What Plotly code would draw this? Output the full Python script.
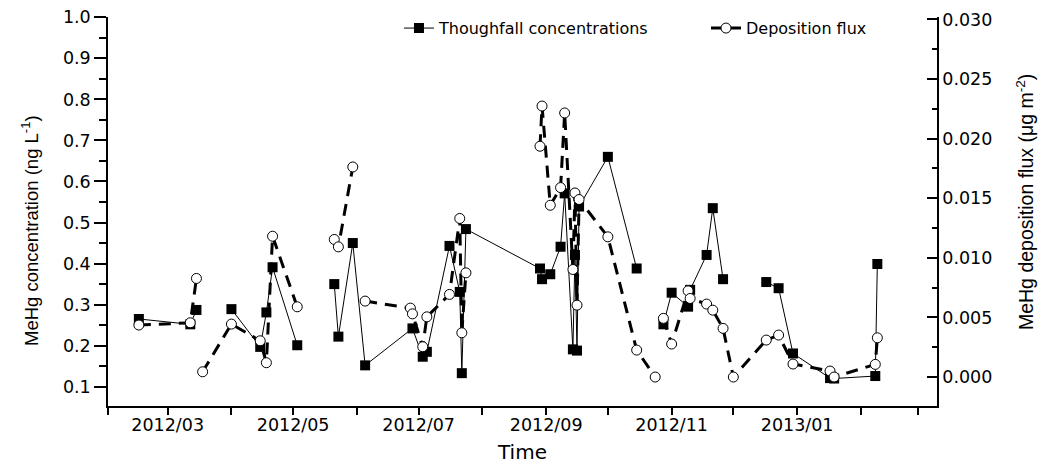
import plotly.graph_objects as go

# Throughfall MeHg concentration (ng/L); None = break in line
conc_dates = ["2012-02-16", "2012-03-12", "2012-03-15", "2012-03-18", "2012-04-01", "2012-04-15",
              "2012-04-18", "2012-04-21", "2012-05-03", "2012-05-12", "2012-05-21", "2012-05-23",
              "2012-05-30", "2012-06-05", "2012-06-28", "2012-07-03", "2012-07-05", "2012-07-16",
              "2012-07-21", "2012-07-22", "2012-07-24", "2012-08-29", "2012-08-30", "2012-09-03",
              "2012-09-08", "2012-09-10", "2012-09-14", "2012-09-15", "2012-09-16", "2012-09-17",
              "2012-10-01", "2012-10-15", "2012-10-24", "2012-10-28", "2012-11-01", "2012-11-09",
              "2012-11-10", "2012-11-18", "2012-11-21", "2012-11-26", "2012-12-01", "2012-12-17",
              "2012-12-23", "2012-12-30", "2013-01-17", "2013-01-19", "2013-02-08", "2013-02-09"]
conc = [0.265, 0.252, 0.287, None, 0.289, 0.197,
        0.281, 0.391, 0.201, None, 0.350, 0.222,
        0.450, 0.152, 0.242, 0.173, 0.185, 0.443,
        0.331, 0.133, 0.484, 0.388, 0.362, 0.374,
        0.441, 0.571, 0.191, 0.421, 0.188, 0.539,
        0.660, 0.388, None, 0.252, 0.329, 0.295,
        0.336, 0.421, 0.535, 0.362, None, 0.355,
        0.340, 0.181, 0.121, 0.120, 0.126, 0.399]

# MeHg deposition flux (ug/m2); None = break in line
flux_dates = ["2012-02-16", "2012-03-12", "2012-03-15", "2012-03-16", "2012-03-18", "2012-04-01",
              "2012-04-15", "2012-04-18", "2012-04-21", "2012-05-03", "2012-05-12", "2012-05-21",
              "2012-05-23", "2012-05-30", "2012-06-02", "2012-06-05", "2012-06-27", "2012-06-28",
              "2012-07-03", "2012-07-05", "2012-07-16", "2012-07-21", "2012-07-22", "2012-07-24",
              "2012-08-01", "2012-08-29", "2012-08-30", "2012-09-03", "2012-09-08", "2012-09-10",
              "2012-09-14", "2012-09-15", "2012-09-16", "2012-09-17", "2012-10-01", "2012-10-15",
              "2012-10-24", "2012-10-26", "2012-10-28", "2012-11-01", "2012-11-09", "2012-11-10",
              "2012-11-18", "2012-11-21", "2012-11-26", "2012-12-01", "2012-12-17", "2012-12-23",
              "2012-12-30", "2013-01-17", "2013-01-19", "2013-02-08", "2013-02-09"]
flux = [0.00436, 0.00455, 0.00827, None, 0.00044, 0.00444,
        0.00304, 0.00120, 0.01181, 0.00589, None, 0.01154,
        0.01092, 0.01762, None, 0.00637, 0.00578, 0.00530,
        0.00254, 0.00505, 0.00693, 0.01330, 0.00371, 0.00874,
        None, 0.01936, 0.02273, 0.01441, 0.01589, 0.02215,
        0.00902, 0.01544, 0.00603, 0.01489, 0.01176, 0.00226,
        0.00000, None, 0.00492, 0.00277, 0.00723, 0.00659,
        0.00612, 0.00561, 0.00408, 0.00000, 0.00310, 0.00352,
        0.00109, 0.00050, 0.00000, 0.00106, 0.00329]

label_ticks = ["2012-03-01", "2012-05-01", "2012-07-01", "2012-09-01", "2012-11-01", "2013-01-01"]
label_text = ["2012/03", "2012/05", "2012/07", "2012/09", "2012/11", "2013/01"]

WIDE = "DejaVu Sans, Verdana, sans-serif"
NARROW = "Liberation Sans, Arial, sans-serif"

fig = go.Figure()
fig.add_trace(go.Scatter(
    x=conc_dates, y=conc, name="Thoughfall concentrations", mode="lines+markers",
    line=dict(color="black", width=1),
    marker=dict(symbol="square", size=10, color="black"),
    connectgaps=False, yaxis="y"))
fig.add_trace(go.Scatter(
    x=flux_dates, y=flux, name="Deposition flux", mode="lines+markers",
    line=dict(color="black", width=3, dash="12px,8px"),
    marker=dict(symbol="circle", size=10, color="white", line=dict(color="black", width=1)),
    connectgaps=False, yaxis="y2"))

# page body has an 8px margin: figure is 8px smaller and margins shifted
fig.update_layout(
    template="none",
    width=1040, height=457,
    margin=dict(l=100, r=111, t=9, b=59, autoexpand=False),
    paper_bgcolor="white", plot_bgcolor="white",
    font=dict(family=WIDE, color="black", size=16),
    showlegend=True,
    legend=dict(orientation="h", x=0.351, y=1.015, xanchor="left", yanchor="top",
                font=dict(family=WIDE, size=16), entrywidth=262, entrywidthmode="pixels",
                bgcolor="rgba(0,0,0,0)", borderwidth=0),
    xaxis=dict(type="date", range=["2012-02-01", "2013-03-10"], automargin=False,
               tickvals=label_ticks, ticktext=label_text, ticklabeloverflow="allow",
               showline=True, linecolor="black", linewidth=1.5,
               ticks="outside", ticklen=2, tickcolor="black", tickwidth=1.5,
               minor=dict(dtick="M1", tick0="2012-02-01", ticks="outside", ticklen=7,
                          tickcolor="black", tickwidth=1.5, showgrid=False),
               showgrid=False, zeroline=False,
               tickfont=dict(family=WIDE, size=17.5),
               title=dict(text="Time", font=dict(family=WIDE, size=20), standoff=11)),
    yaxis=dict(range=[0.053, 1.0007], automargin=False, ticklabeloverflow="allow",
               tickvals=[0.1, 0.2, 0.3, 0.4, 0.5, 0.6, 0.7, 0.8, 0.9, 1.0],
               ticktext=["0.1", "0.2", "0.3", "0.4", "0.5", "0.6", "0.7", "0.8", "0.9", "1.0"],
               showline=True, linecolor="black", linewidth=1.5,
               ticks="outside", ticklen=12, tickcolor="black", tickwidth=1.5,
               minor=dict(dtick=0.05, tick0=0.05, ticks="outside", ticklen=7, tickcolor="black",
                          tickwidth=1.5, showgrid=False),
               showgrid=False, zeroline=False, tickfont=dict(family=WIDE, size=17.5)),
    yaxis2=dict(range=[-0.00243, 0.0302], overlaying="y", side="right", automargin=False,
                ticklabeloverflow="allow",
                tickvals=[0.0, 0.005, 0.010, 0.015, 0.020, 0.025, 0.030],
                ticktext=["0.000", "0.005", "0.010", "0.015", "0.020", "0.025", "0.030"],
                showline=True, linecolor="black", linewidth=1.5,
                ticks="inside", ticklen=10, tickcolor="black", tickwidth=1.5,
                minor=dict(dtick=0.0025, tick0=0.0, ticks="inside", ticklen=5, tickcolor="black",
                           tickwidth=1.5, showgrid=False),
                showgrid=False, zeroline=False, tickfont=dict(family=WIDE, size=17.5)),
    annotations=[
        dict(text="MeHg concentration (ng L<sup>-1</sup>)", xref="paper", yref="paper",
             x=-0.0941, y=0.4524, xanchor="center", yanchor="middle", textangle=-90,
             showarrow=False, font=dict(family=NARROW, size=18.5, color="black")),
        dict(text="MeHg deposition flux (μg m<sup>-2</sup>)", xref="paper", yref="paper",
             x=1.1062, y=0.5244, xanchor="center", yanchor="middle", textangle=-90,
             showarrow=False, font=dict(family=NARROW, size=19.5, color="black")),
    ],
)

fig.write_html("out.html")
